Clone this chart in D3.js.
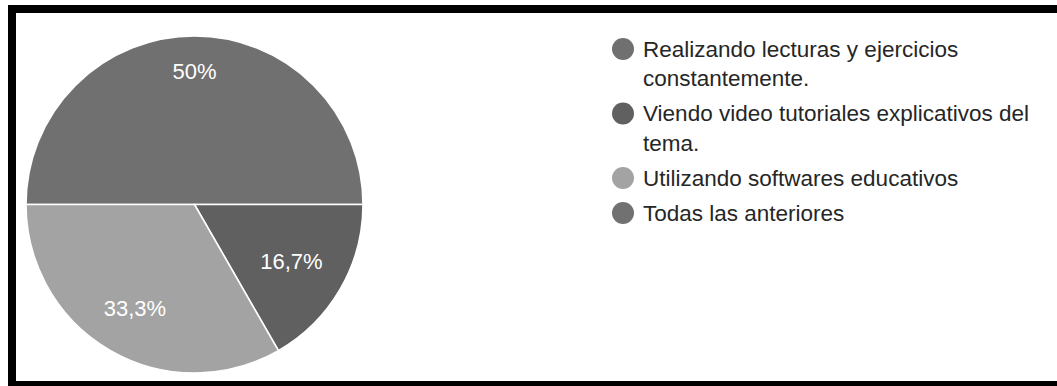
<!DOCTYPE html>
<html>
<head>
<meta charset="utf-8">
<script src="https://cdn.jsdelivr.net/npm/d3@7"></script>
<style>
  html, body { margin: 0; padding: 0; background: #fff; }
  svg { display: block; }
  text { font-family: "Liberation Sans", Arial, sans-serif; }
</style>
</head>
<body>
<svg id="chart" width="1057" height="386"></svg>
<script>
// Answer categories and their share of responses (percent)
const categories = [
  "Realizando lecturas y ejercicios constantemente.",
  "Viendo video tutoriales explicativos del tema.",
  "Utilizando softwares educativos",
  "Todas las anteriores"
];
const values = [50, 16.7, 33.3, 0];
const valueLabels = ["50%", "16,7%", "33,3%", ""];
const colors = ["#707070", "#606060", "#a3a3a3", "#717171"];

const W = 1057, H = 386;
const svg = d3.select("#chart");

// black frame on the left, top and bottom
const frame = svg.append("g").attr("fill", "#000");
frame.append("rect").attr("x", 8).attr("y", 5).attr("width", W - 8).attr("height", 8);
frame.append("rect").attr("x", 8).attr("y", 5).attr("width", 8).attr("height", H - 5);
frame.append("rect").attr("x", 8).attr("y", 381).attr("width", W - 8).attr("height", 5);

// pie
const cx = 194.5, cy = 204.5, R = 168.5;
const pie = d3.pie().sort(null).value(d => d)
  .startAngle(-Math.PI / 2).endAngle(Math.PI * 1.5);
const arcs = pie(values);
const arc = d3.arc().innerRadius(0).outerRadius(R);

const g = svg.append("g").attr("transform", `translate(${cx},${cy})`);
g.selectAll("path.slice")
  .data(arcs.filter(d => d.value > 0))
  .join("path")
  .attr("class", "slice")
  .attr("d", arc)
  .attr("fill", d => colors[d.index])
  .attr("stroke", "#fff")
  .attr("stroke-width", 1.6);

// slice labels: pushed outward along the bisector until the outer corner
// of the text box sits at a fixed fraction of the radius
const labelFont = 22;
const reach = 0.85 * R;
arcs.forEach(d => {
  const txt = valueLabels[d.index];
  if (!txt || d.value <= 0) return;
  const t = g.append("text")
    .attr("fill", "#fff")
    .attr("font-size", labelFont)
    .attr("text-anchor", "middle")
    .attr("dominant-baseline", "central")
    .text(txt);
  const w = t.node().getComputedTextLength();
  const h = labelFont * 0.72;
  const a = (d.startAngle + d.endAngle) / 2;
  const ux = Math.sin(a), uy = -Math.cos(a);
  const sx = (ux >= 0 ? 1 : -1) * w / 2, sy = (uy >= 0 ? 1 : -1) * h / 2;
  const us = ux * sx + uy * sy;
  const dist = -us + Math.sqrt(us * us - (sx * sx + sy * sy) + reach * reach);
  t.attr("x", dist * ux).attr("y", dist * uy + 1);
});

// legend
const legX = 623, textX = 643, wrapW = 395, legFont = 22.5;
const lineStep = 29.5, itemGap = 35;
const legend = svg.append("g");
let y = 49;
categories.forEach((name, i) => {
  legend.append("circle")
    .attr("cx", legX).attr("cy", y).attr("r", 11)
    .attr("fill", colors[i]);
  const words = name.split(" ");
  const lines = [];
  let cur = "";
  const probe = legend.append("text").attr("font-size", legFont);
  words.forEach(wd => {
    const test = cur ? cur + " " + wd : wd;
    probe.text(test);
    if (probe.node().getComputedTextLength() > wrapW && cur) {
      lines.push(cur);
      cur = wd;
    } else {
      cur = test;
    }
  });
  lines.push(cur);
  probe.remove();
  lines.forEach((ln, k) => {
    legend.append("text")
      .attr("x", textX)
      .attr("y", y + k * lineStep)
      .attr("dominant-baseline", "central")
      .attr("font-size", legFont)
      .attr("fill", "#262626")
      .text(ln);
  });
  y += (lines.length - 1) * lineStep + itemGap;
});
</script>
</body>
</html>
